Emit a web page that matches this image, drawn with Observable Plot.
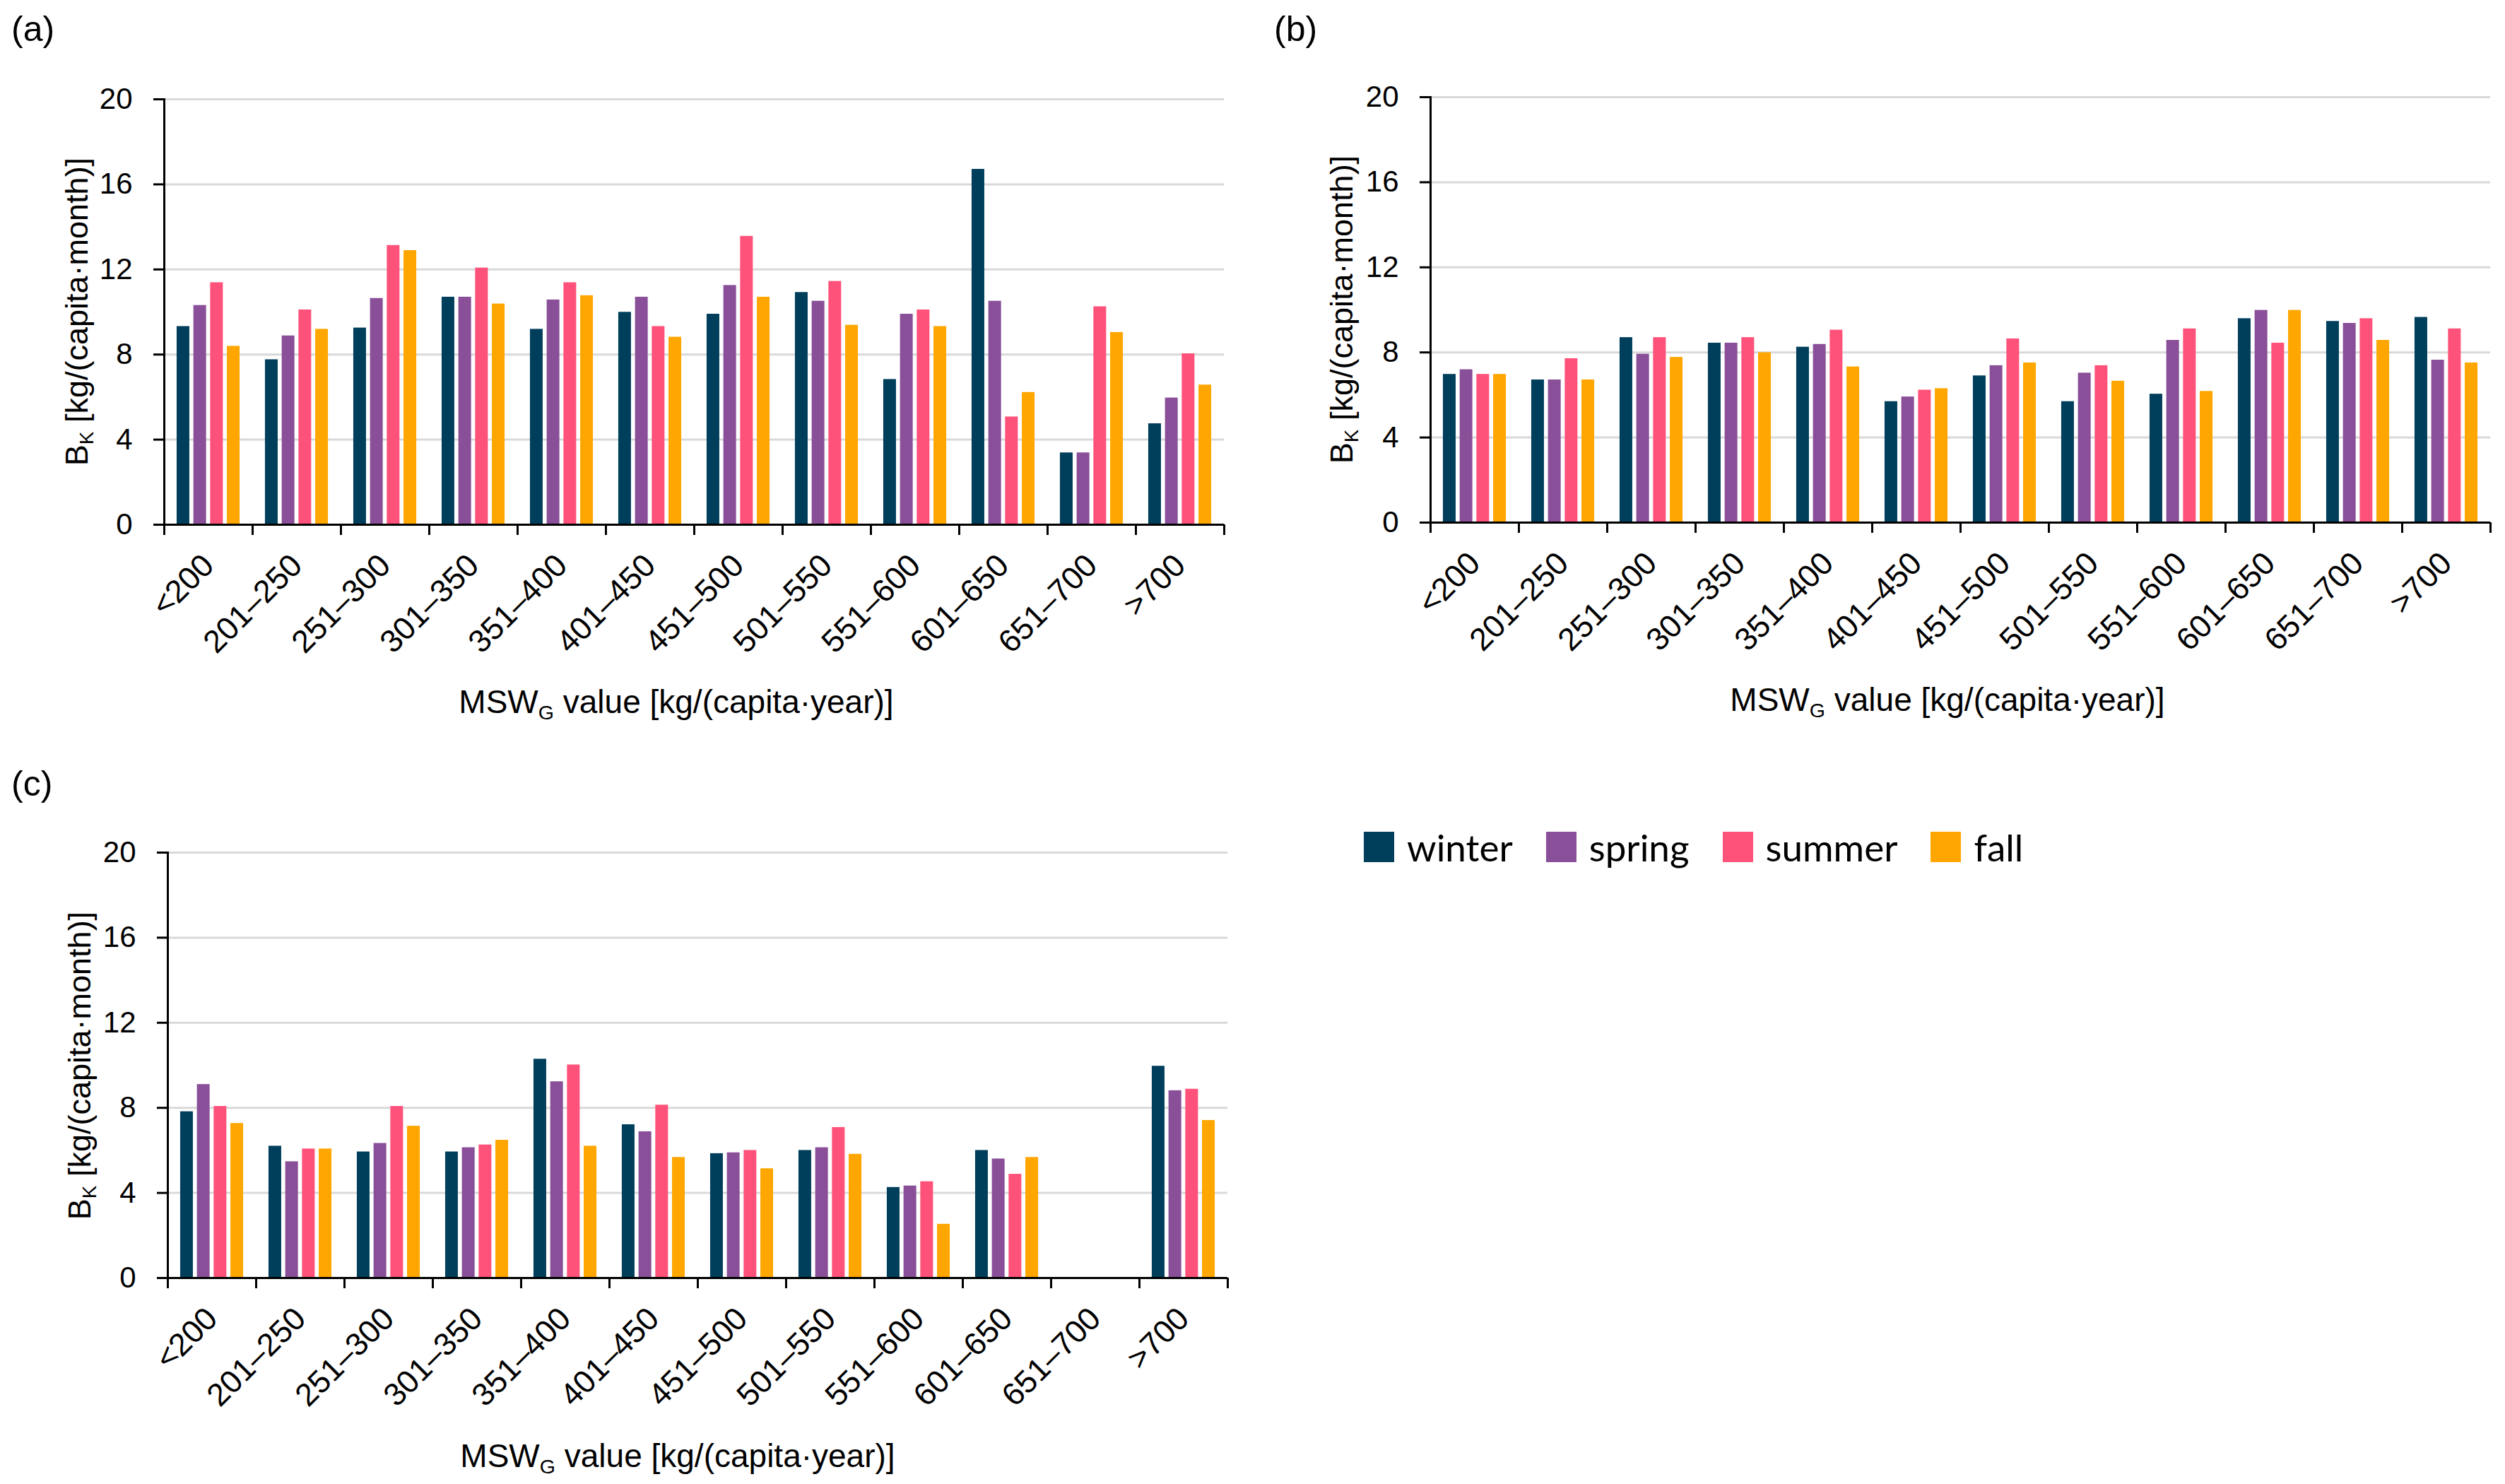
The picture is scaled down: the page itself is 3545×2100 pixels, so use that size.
<!DOCTYPE html>
<html>
<head>
<meta charset="utf-8">
<script src="https://cdn.jsdelivr.net/npm/d3@7"></script>
<script src="https://cdn.jsdelivr.net/npm/@observablehq/plot@0.6"></script>
<style>
html,body{margin:0;padding:0;background:#fff;color:#000;}
#page{position:relative;width:3545px;height:2100px;overflow:hidden;font-family:"Liberation Sans",Arial,sans-serif;color:#000;}
.panel{position:absolute;}
.panel svg{overflow:visible;}
.plabel{position:absolute;font-size:50px;line-height:1;white-space:nowrap;}
.ytitle{position:absolute;font-size:45px;line-height:1;white-space:nowrap;transform:translate(-50%,-50%) rotate(-90deg);}
.xtitle{position:absolute;font-size:46px;line-height:1;white-space:nowrap;transform:translate(-50%,-50%);}
.sub{font-size:0.62em;position:relative;top:0.3em;}
#legend{position:absolute;left:1930px;top:1177px;height:43px;display:flex;align-items:center;font-family:Lato,"Open Sans",sans-serif;font-size:53px;white-space:nowrap;}
#legend .item{display:flex;align-items:center;margin-right:47px;}
#legend .sw{width:43px;height:43px;margin-right:18px;}
</style>
</head>
<body>
<div id="page">
  <div class="plabel" style="left:16px;top:16px;">(a)</div>
  <div class="plabel" style="left:1803px;top:16px;">(b)</div>
  <div class="plabel" style="left:16px;top:1084px;">(c)</div>
  <div id="pa" class="panel" style="left:32px;top:120px;"></div>
  <div id="pb" class="panel" style="left:1824px;top:117px;"></div>
  <div id="pc" class="panel" style="left:37px;top:1186px;"></div>
  <div class="ytitle" style="left:108px;top:441px;">B<span class="sub">K</span> [kg/(capita·month)]</div>
  <div class="ytitle" style="left:1898px;top:438px;">B<span class="sub">K</span> [kg/(capita·month)]</div>
  <div class="ytitle" style="left:112px;top:1508px;">B<span class="sub">K</span> [kg/(capita·month)]</div>
  <div class="xtitle" style="left:957px;top:993px;">MSW<span class="sub">G</span> value [kg/(capita·year)]</div>
  <div class="xtitle" style="left:2756px;top:990px;">MSW<span class="sub">G</span> value [kg/(capita·year)]</div>
  <div class="xtitle" style="left:959px;top:2060px;">MSW<span class="sub">G</span> value [kg/(capita·year)]</div>
  <div id="legend"></div>
</div>
<script>
// ---- data ----
const categories = ["<200","201–250","251–300","301–350","351–400","401–450","451–500","501–550","551–600","601–650","651–700",">700"];
const seasons = ["winter","spring","summer","fall"];
const colors = ["#003f5c","#894f98","#ff527a","#ffa600"];
const yTicks = [0,4,8,12,16,20];

// panel (a)
const aWinter = [9.32,7.76,9.25,10.70,9.19,9.99,9.90,10.92,6.83,16.71,3.38,4.75];
const aSpring = [10.31,8.88,10.64,10.70,10.57,10.70,11.25,10.51,9.90,10.51,3.38,5.96];
const aSummer = [11.38,10.10,13.13,12.07,11.38,9.32,13.56,11.44,10.10,5.07,10.25,8.04];
const aFall   = [8.39,9.19,12.89,10.38,10.77,8.82,10.70,9.38,9.32,6.22,9.04,6.57];

// panel (b)
const bWinter = [6.97,6.71,8.70,8.44,8.25,5.69,6.90,5.69,6.04,9.59,9.46,9.65];
const bSpring = [7.19,6.71,7.92,8.44,8.38,5.91,7.38,7.03,8.57,9.98,9.37,7.64];
const bSummer = [6.97,7.71,8.70,8.70,9.05,6.23,8.64,7.38,9.11,8.44,9.59,9.11];
const bFall   = [6.97,6.71,7.77,7.99,7.32,6.30,7.51,6.65,6.17,9.98,8.57,7.51];

// panel (c)
const cWinter = [7.82,6.20,5.93,5.93,10.29,7.21,5.85,6.00,4.26,6.00,null,9.96];
const cSpring = [9.10,5.47,6.33,6.13,9.23,6.88,5.89,6.13,4.33,5.60,null,8.81];
const cSummer = [8.07,6.07,8.07,6.26,10.02,8.13,6.00,7.08,4.53,4.88,null,8.88];
const cFall   = [7.27,6.07,7.14,6.48,6.20,5.67,5.14,5.82,2.53,5.67,null,7.41];

// ---- layout ----
const W = 1720, H = 802, mL = 200, mR = 20, mT = 20, mB = 180;
const bw = (W - mL - mR) / categories.length;
const barW = bw * 0.144, step = bw * 0.1896;
const pad0 = (bw - (3 * step + barW)) / 2;

function panel(series) {
  const table = categories.flatMap((cat, i) =>
    seasons.map((season, j) => ({cat, season, value: series[j][i]})));
  return Plot.plot({
    width: W, height: H,
    marginLeft: mL, marginRight: mR, marginTop: mT, marginBottom: mB,
    style: {fontFamily: '"Liberation Sans", Arial, sans-serif', fontSize: "42px", color: "#000", background: "transparent", overflow: "visible"},
    x: {type: "band", domain: categories, padding: 0},
    y: {domain: [0, 20]},
    marks: [
      Plot.ruleY(yTicks.filter(t => t > 0), {stroke: "#d9d9d9", strokeWidth: 3}),
      ...seasons.map((s, j) => Plot.barY(table.filter(d => d.season === s), {
        x: "cat", y: "value", fill: colors[j],
        insetLeft: pad0 + j * step,
        insetRight: bw - pad0 - j * step - barW
      })),
      Plot.ruleY([0], {stroke: "#000", strokeWidth: 3}),
      Plot.frame({anchor: "left", stroke: "#000", strokeWidth: 3}),
      Plot.axisY({ticks: yTicks, tickSize: 15, tickPadding: 30, fontSize: 42, strokeWidth: 3, label: null}),
      Plot.axisX({tickSize: 0, tickRotate: -45, tickPadding: 50, fontSize: 45, label: null}),
      Plot.axisX({tickSize: 15, tickFormat: () => "", strokeWidth: 3, dx: -bw / 2, label: null}),
      Plot.axisX({tickSize: 15, tickFormat: () => "", strokeWidth: 3, dx: bw / 2, label: null})
    ]
  });
}

document.getElementById("pa").appendChild(panel([aWinter, aSpring, aSummer, aFall]));
document.getElementById("pb").appendChild(panel([bWinter, bSpring, bSummer, bFall]));
document.getElementById("pc").appendChild(panel([cWinter, cSpring, cSummer, cFall]));

const legend = document.getElementById("legend");
seasons.forEach((s, j) => {
  const item = document.createElement("div");
  item.className = "item";
  const sw = document.createElement("div");
  sw.className = "sw";
  sw.style.background = colors[j];
  const t = document.createElement("span");
  t.textContent = s;
  item.appendChild(sw);
  item.appendChild(t);
  legend.appendChild(item);
});
</script>
</body>
</html>
